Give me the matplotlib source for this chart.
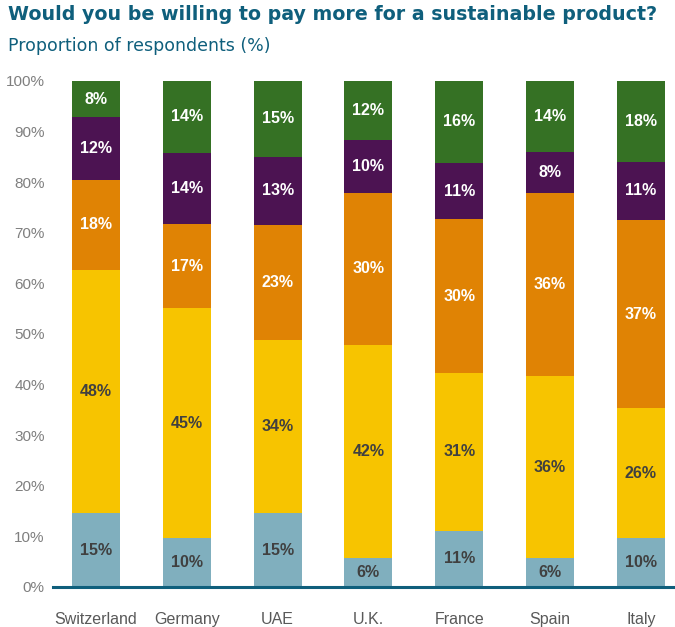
import matplotlib.pyplot as plt
import numpy as np

plt.rcParams['font.family'] = ['Liberation Sans', 'DejaVu Sans']

countries = ["Switzerland", "Germany", "UAE", "U.K.", "France", "Spain", "Italy"]
# stacked segments, bottom to top (share of respondents, %)
seg_blue   = [14.6, 9.7, 14.6, 5.7, 11.1, 5.7, 9.6]
seg_yellow = [48.1, 45.4, 34.3, 42.1, 31.2, 36.0, 25.7]
seg_orange = [17.8, 16.6, 22.7, 30.1, 30.4, 36.2, 37.3]
seg_purple = [12.3, 14.1, 13.4, 10.4, 11.1, 8.1, 11.4]
seg_green  = [7.6, 14.2, 15.0, 11.7, 16.2, 14.0, 17.6]

segments = [seg_blue, seg_yellow, seg_orange, seg_purple, seg_green]
colors = ["#80AFBE", "#F7C400", "#E08304", "#4C1352", "#357124"]
label_colors = ["#404040", "#404040", "white", "white", "white"]

teal = "#0F5F7C"

fig = plt.figure(figsize=(6.75, 6.27), dpi=100)
ax = fig.add_axes([53/675, 1 - 587/627, 1 - 53/675, (587 - 81)/627])

x = np.arange(len(countries))
bottom = np.zeros(len(countries))
for vals, col, lcol in zip(segments, colors, label_colors):
    vals = np.array(vals)
    ax.bar(x, vals, bottom=bottom, width=0.53, color=col, zorder=2)
    for xi, b, v in zip(x, bottom, vals):
        top = min(b + v, 100)
        ax.text(xi, (b + top) / 2, f"{v:.0f}%", ha="center", va="center",
                color=lcol, fontsize=11.5, fontweight="bold", zorder=3)
    bottom = bottom + vals

ax.set_ylim(0, 100)
ax.set_xlim(-0.474, 6.377)
ax.set_yticks(range(0, 101, 10))
ax.set_yticklabels([f"{t}%" for t in range(0, 101, 10)])
ax.set_xticks(x)
ax.set_xticklabels(countries)

for s in ["top", "right", "left"]:
    ax.spines[s].set_visible(False)
ax.spines["bottom"].set_color(teal)
ax.spines["bottom"].set_linewidth(2.2)
ax.spines["bottom"].set_zorder(4)

ax.tick_params(axis="y", length=0, pad=6, labelsize=11, labelcolor="#7F7F7F")
ax.tick_params(axis="x", length=0, pad=18, labelsize=11.5, labelcolor="#595959")

fig.text(8/675, 1 - 15/627, "Would you be willing to pay more for a sustainable product?",
         ha="left", va="center", fontsize=13.7, fontweight="bold", color=teal,
         family="DejaVu Sans")
fig.text(8/675, 1 - 46/627, "Proportion of respondents (%)",
         ha="left", va="center", fontsize=12.5, color=teal,
         family="DejaVu Sans")

fig.savefig("out.png", dpi=100)
